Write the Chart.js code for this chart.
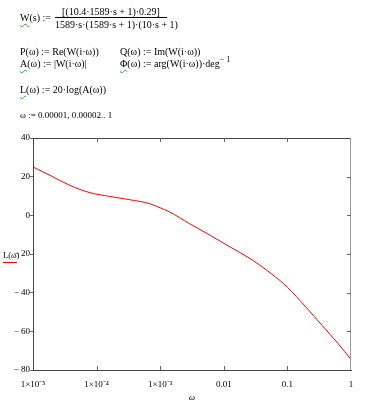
<!DOCTYPE html>
<html>
<head>
<meta charset="utf-8">
<script src="https://cdn.jsdelivr.net/npm/chart.js@4"></script>
<style>
    body { margin: 0; background: #fff; }
    #wrap { position: relative; width: 367px; height: 404px; font-family: "Liberation Serif", "Times New Roman", serif; color: #000; }
    #wrap canvas { position: absolute; left: 0; top: 0; }
    .f { position: absolute; font-size: 10px; line-height: 12px; white-space: nowrap; }
    .w { text-decoration: underline wavy #2fa82f; text-decoration-thickness: 1px; text-underline-offset: 2px; }
    .bar { position: absolute; height: 1px; background: #000; }
    sup { font-size: 8px; vertical-align: 5px; line-height: 0; }
</style>
</head>
<body>
<div id="wrap">
    <canvas id="bodeChart" width="367" height="404"></canvas>

    <!-- Mathcad worksheet lines -->
    <div class="f" style="left:20px; top:12px;"><span class="w">W</span>(s) :=</div>
    <div class="f" style="left:55px; top:6px; width:112px; text-align:center;">[(10.4·1589·s + 1)·0.29]</div>
    <div class="bar" style="left:55px; top:17px; width:112px;"></div>
    <div class="f" style="left:55px; top:19px; width:112px; text-align:center;">1589·s·(1589·s + 1)·(10·s + 1)</div>

    <div class="f" style="left:20px; top:46px;">P(ω) := Re(W(i·ω))</div>
    <div class="f" style="left:120px; top:46px;">Q(ω) := Im(W(i·ω))</div>
    <div class="f" style="left:20px; top:58px;"><span class="w">A</span>(ω) := |W(i·ω)|</div>
    <div class="f" style="left:120px; top:58px;"><span class="w">Φ</span>(ω) := arg(W(i·ω))·deg<sup>− 1</sup></div>

    <div class="f" style="left:20px; top:84px;"><span class="w">L</span>(ω) := 20·log(A(ω))</div>

    <div class="f" style="left:20px; top:109px; font-size:9px;">ω := 0.00001, 0.00002.. 1</div>

    <!-- y axis trace label -->
    <div class="f" style="left:3px; top:249px; font-size:8.5px;">L(ω)</div>
    <div class="bar" style="left:3px; top:262px; width:14px; background:#f00;"></div>
</div>

<script>
// Frequency points (rad/s)
const omega = [1e-5, 1.85e-5, 3.8e-5, 7.9e-5, 1.6e-4, 3.3e-4, 6.9e-4, 1e-3, 1.4e-3, 2.9e-3,
    6.1e-3, 0.0126, 0.026, 0.057, 0.1, 0.19, 0.35, 0.63, 1];
// L(w) in dB at those points
const L = [25.0, 20.7, 15.5, 11.7, 9.8, 8.1, 6.0, 3.9, 1.8, -4.3,
    -10.3, -16.4, -22.4, -30.4, -37.2, -47.0, -56.9, -66.4, -74.5];

// Axis ticks
const xTicks = [1e-5, 1e-4, 1e-3, 0.01, 0.1, 1];
const xTickLabels = ["1×10⁻⁵", "1×10⁻⁴", "1×10⁻³", "0.01", "0.1", "1"];
const yTicks = [-80, -60, -40, -20, 0, 20, 40];

const tickFont = { family: "'Liberation Serif', serif", size: 9 };

// Draws the top/right frame and the inner tick marks like Mathcad does
const framePlugin = {
    id: "frame",
    afterDraw(chart) {
        const { ctx, chartArea: a, scales } = chart;
        ctx.save();
        ctx.lineWidth = 1;
        ctx.strokeStyle = "#444";
        ctx.beginPath();
        ctx.moveTo(a.left, a.top + 0.5);
        ctx.lineTo(a.right, a.top + 0.5);
        ctx.stroke();
        ctx.strokeStyle = "#999";
        ctx.beginPath();
        ctx.moveTo(a.right - 0.5, a.top);
        ctx.lineTo(a.right - 0.5, a.bottom);
        ctx.stroke();

        ctx.strokeStyle = "#666";
        ctx.beginPath();
        xTicks.slice(1, -1).forEach(v => {
            const x = Math.round(scales.x.getPixelForValue(v)) + 0.5;
            ctx.moveTo(x, a.top);
            ctx.lineTo(x, a.top + 4);
            ctx.moveTo(x, a.bottom);
            ctx.lineTo(x, a.bottom - 4);
        });
        yTicks.slice(1, -1).forEach(v => {
            const y = Math.round(scales.y.getPixelForValue(v)) + 0.5;
            ctx.moveTo(a.right, y);
            ctx.lineTo(a.right - 4, y);
        });
        ctx.stroke();
        ctx.restore();
    }
};

new Chart(document.getElementById("bodeChart"), {
    type: "line",
    data: {
        datasets: [{
            data: omega.map((w, i) => ({ x: w, y: L[i] })),
            borderColor: "#ff0000",
            borderWidth: 1,
            pointRadius: 0,
            cubicInterpolationMode: "monotone"
        }]
    },
    options: {
        responsive: false,
        animation: false,
        layout: { padding: { top: 138, right: 16, left: 0, bottom: 0 } },
        plugins: {
            legend: { display: false },
            tooltip: { enabled: false }
        },
        scales: {
            x: {
                type: "logarithmic",
                min: 1e-5,
                max: 1,
                afterBuildTicks: s => { s.ticks = xTicks.map(v => ({ value: v })); },
                afterFit: s => { s.height = 34; },
                ticks: {
                    autoSkip: false,
                    maxRotation: 0,
                    padding: 9,
                    color: "#000",
                    font: tickFont,
                    callback: v => xTickLabels[Math.round(Math.log10(v)) + 5]
                },
                grid: { drawOnChartArea: false, drawTicks: false },
                border: { color: "#444" },
                title: {
                    display: true,
                    text: "ω",
                    color: "#000",
                    font: { family: "'Liberation Serif', serif", size: 9, style: "italic" },
                    padding: { top: 0, bottom: 1 }
                }
            },
            y: {
                min: -80,
                max: 40,
                afterBuildTicks: s => { s.ticks = yTicks.map(v => ({ value: v })); },
                afterFit: s => { s.width = 33; },
                ticks: {
                    padding: 0,
                    color: "#000",
                    font: tickFont,
                    callback: v => v < 0 ? "\u2212 " + Math.abs(v) : String(v)
                },
                grid: { drawOnChartArea: false, drawTicks: true, tickLength: 3, color: "#666" },
                border: { color: "#444" }
            }
        }
    },
    plugins: [framePlugin]
});
</script>
</body>
</html>
